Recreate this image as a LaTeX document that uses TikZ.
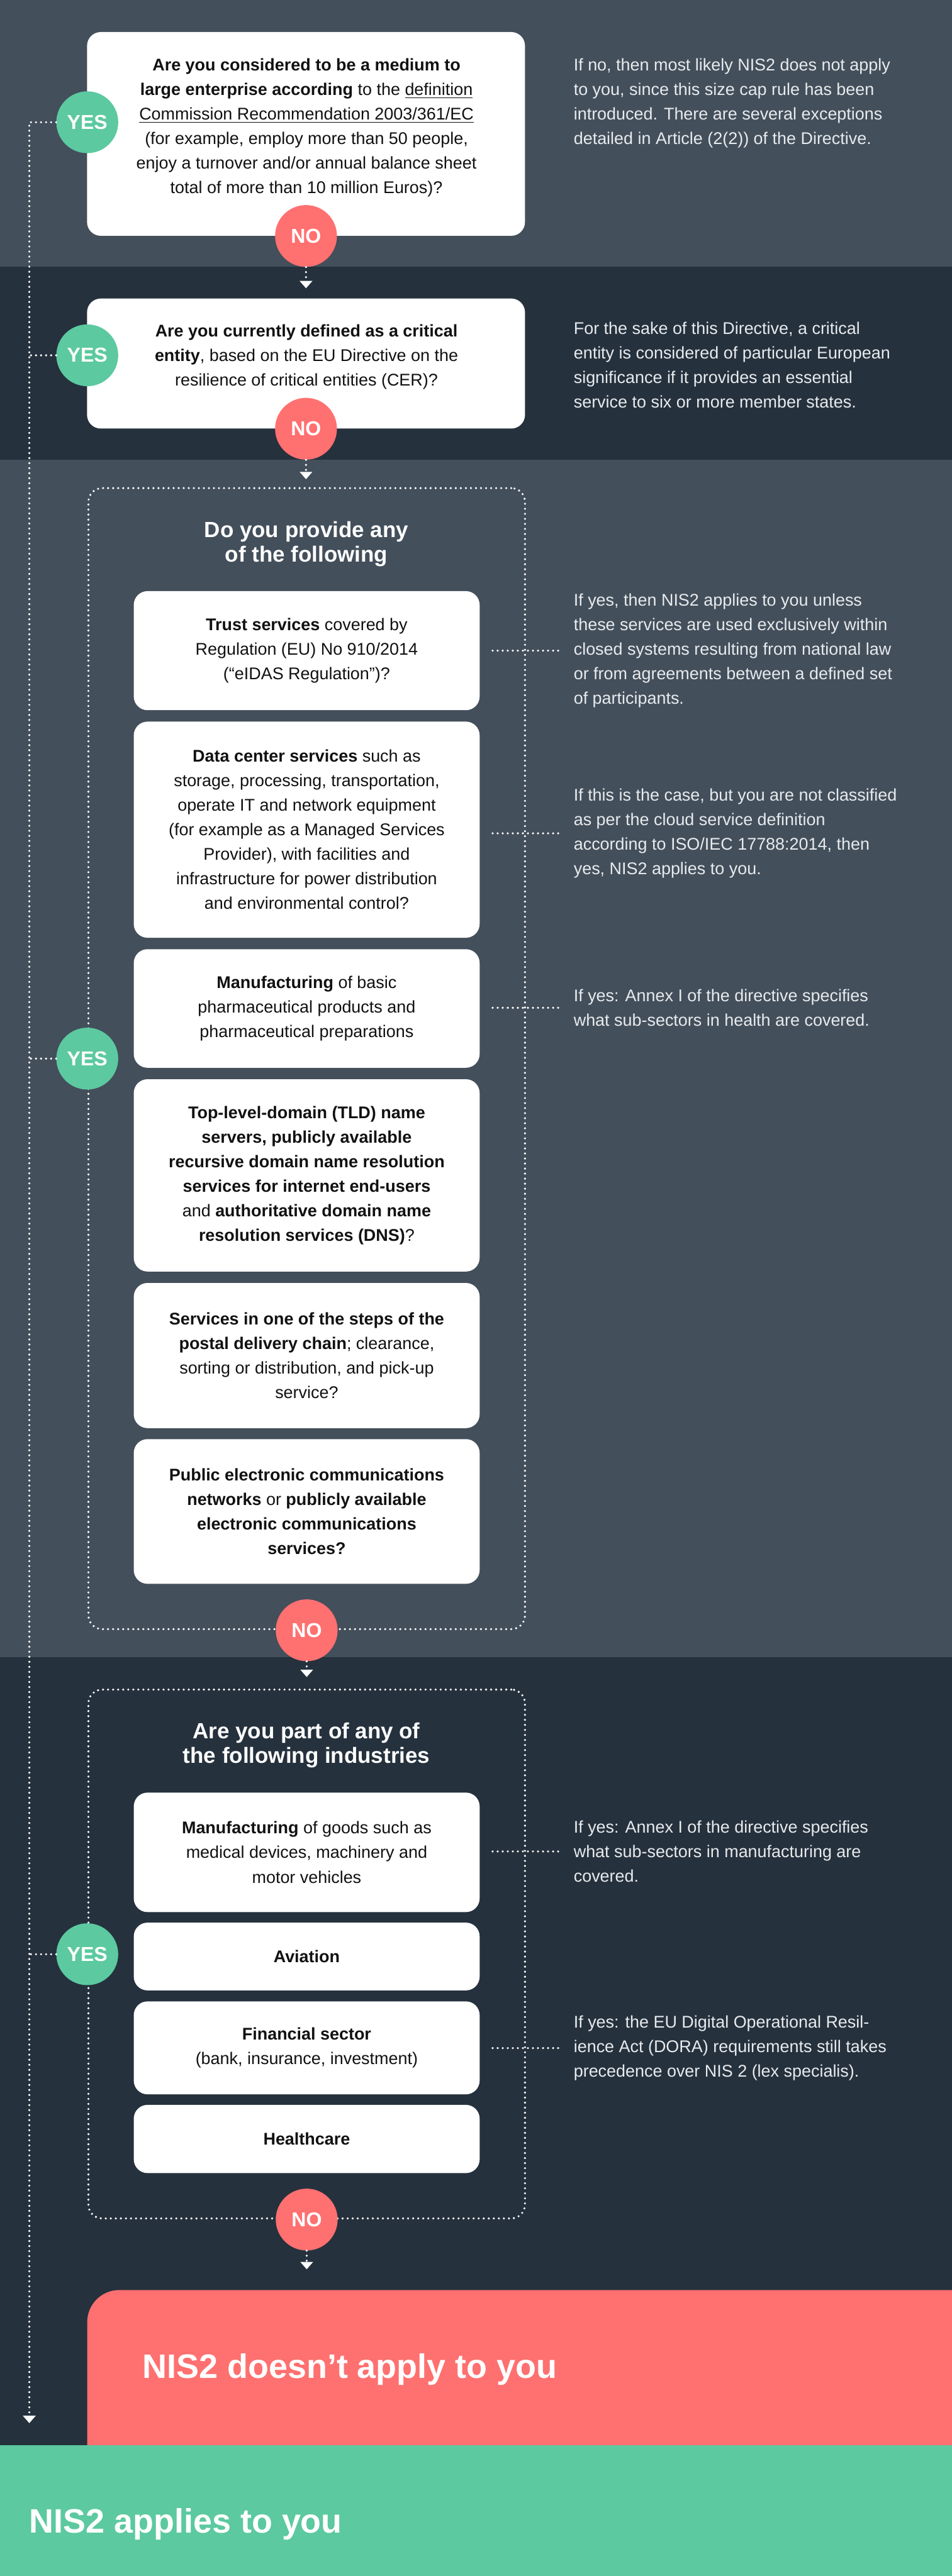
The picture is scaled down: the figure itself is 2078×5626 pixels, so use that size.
\documentclass[tikz,border=0pt]{standalone}
\usepackage{fontspec}
\setmainfont{Liberation Sans}
\usetikzlibrary{arrows.meta}
\definecolor{bandL}{HTML}{434F5B}
\definecolor{bandD}{HTML}{25313D}
\definecolor{yesG}{HTML}{5CC9A0}
\definecolor{noR}{HTML}{FF7070}
\definecolor{ink}{HTML}{111111}
\definecolor{notecol}{HTML}{E8EBEE}
\newcommand\bodyfont{\fontsize{18.5}{26.8}\selectfont}
\newcommand\headfont{\fontsize{24}{26.5}\selectfont\bfseries}
\newcommand\tagfont{\fontsize{22}{22}\selectfont\bfseries}
\newcommand\bigfont{\fontsize{37}{40}\selectfont\bfseries}
\newcommand\myul[1]{\setbox0\hbox{#1}\rlap{\rule[-3.2pt]{\wd0}{1.1pt}}\box0}
\tikzset{
 dotline/.style={draw=white, line width=2.5pt, line cap=round, dash pattern=on 0pt off 5.5pt},
 flow/.style={dotline, -{Triangle[width=14pt,length=8pt,line width=0pt]}},
 qbox/.style={fill=white, rounded corners=15pt, inner sep=0pt, minimum width=478pt},
 ibox/.style={fill=white, rounded corners=15pt, inner sep=0pt, minimum width=377.5pt, align=center, text=ink, font=\bodyfont},
 qtext/.style={align=center, text=ink, font=\bodyfont, inner sep=0pt},
 aside/.style={align=left, text=notecol, font=\bodyfont, inner sep=0pt, anchor=west},
 contbox/.style={dotline, rounded corners=15pt, minimum width=476.5pt, inner sep=0pt},
 heading/.style={align=center, text=white, font=\headfont, inner sep=0pt},
 yestag/.style={circle, fill=yesG, minimum size=67.5pt, inner sep=0pt, text=white, font=\tagfont},
 notag/.style={circle, fill=noR, minimum size=67.5pt, inner sep=0pt, text=white, font=\tagfont},
}
\begin{document}
\begin{tikzpicture}[x=0.5pt,y=-0.5pt]
\useasboundingbox (0,0) rectangle (2078,5626);
\clip (0,0) rectangle (2078,5626);
% bands
\fill[bandL] (0,0) rectangle (2078,583);
\fill[bandD] (0,583) rectangle (2078,1004);
\fill[bandL] (0,1004) rectangle (2078,3619);
\fill[bandD] (0,3619) rectangle (2078,5340);

% question 1
\node[qbox, minimum height=222.5pt] (q1) at (668,292.5) {};
\node[qtext] (q1t) at (669,279) {\textbf{Are you considered to be a medium to}\\
\textbf{large enterprise according} to the \myul{definition}\\
\myul{Commission Recommendation 2003/361/EC}\\
(for example, employ more than 50 people,\\
enjoy a turnover and/or annual balance sheet\\
total of more than 10 million Euros)?};
\node[aside] (r1) at (1252,225.5) {If no, then most likely NIS2 does not apply\\
to you, since this size cap rule has been\\
introduced. There are several exceptions\\
detailed in Article (2(2)) of the Directive.};

% question 2
\node[qbox, minimum height=142pt] (q2) at (668,794) {};
\node[qtext] (q2t) at (669,780) {\textbf{Are you currently defined as a critical}\\
\textbf{entity}, based on the EU Directive on the\\
resilience of critical entities (CER)?};
\node[aside] (r2) at (1252,797) {For the sake of this Directive, a critical\\
entity is considered of particular European\\
significance if it provides an essential\\
service to six or more member states.};

% group 1
\node[contbox, minimum height=1246pt] (c1) at (669.5,2312) {};
\node[heading] (h1) at (669,1188.5) {Do you provide any\\of the following};
\node[ibox, minimum height=130pt] (ib1) at (669.5,1421) {\textbf{Trust services} covered by\\
Regulation (EU) No 910/2014\\
(“eIDAS Regulation”)?};
\node[ibox, minimum height=236pt] (ib2) at (669.5,1812) {\textbf{Data center services} such as\\
storage, processing, transportation,\\
operate IT and network equipment\\
(for example as a Managed Services\\
Provider), with facilities and\\
infrastructure for power distribution\\
and environmental control?};
\node[ibox, minimum height=129.5pt] (ib3) at (669.5,2202.5) {\textbf{Manufacturing} of basic\\
pharmaceutical products and\\
pharmaceutical preparations};
\node[ibox, minimum height=210pt] (ib4) at (669.5,2567) {\textbf{Top-level-domain (TLD) name}\\
\textbf{servers, publicly available}\\
\textbf{recursive domain name resolution}\\
\textbf{services for internet end-users}\\
and \textbf{authoritative domain name}\\
\textbf{resolution services (DNS)}?};
\node[ibox, minimum height=158.5pt] (ib5) at (669.5,2960.5) {\textbf{Services in one of the steps of the}\\
\textbf{postal delivery chain}; clearance,\\
sorting or distribution, and pick-up\\
service?};
\node[ibox, minimum height=158pt] (ib6) at (669.5,3301) {\textbf{Public electronic communications}\\
\textbf{networks} or \textbf{publicly available}\\
\textbf{electronic communications}\\
\textbf{services?}};
\node[aside] (r3) at (1252,1421) {If yes, then NIS2 applies to you unless\\
these services are used exclusively within\\
closed systems resulting from national law\\
or from agreements between a defined set\\
of participants.};
\node[aside] (r4) at (1252,1820) {If this is the case, but you are not classified\\
as per the cloud service definition\\
according to ISO/IEC 17788:2014, then\\
yes, NIS2 applies to you.};
\node[aside] (r5) at (1252,2201) {If yes: Annex I of the directive specifies\\
what sub-sectors in health are covered.};

% group 2
\node[contbox, minimum height=577.5pt] (c2) at (669.5,4267.5) {};
\node[heading] (h2) at (669,3811.5) {Are you part of any of\\the following industries};
\node[ibox, minimum height=130.5pt] (m1) at (669.5,4045.5) {\textbf{Manufacturing} of goods such as\\
medical devices, machinery and\\
motor vehicles};
\node[ibox, minimum height=74pt, font=\bodyfont\bfseries] (m2) at (669.5,4273) {Aviation};
\node[ibox, minimum height=101.5pt] (m3) at (669.5,4472.5) {\textbf{Financial sector}\\
(bank, insurance, investment)};
\node[ibox, minimum height=74.5pt, font=\bodyfont\bfseries] (m4) at (669.5,4671.5) {Healthcare};
\node[aside] (r6) at (1252,4043.5) {If yes: Annex I of the directive specifies\\
what sub-sectors in manufacturing are\\
covered.};
\node[aside] (r7) at (1252,4473) {If yes: the EU Digital Operational Resil-\\
ience Act (DORA) requirements still takes\\
precedence over NIS 2 (lex specialis).};

% outcomes
\node[fill=noR, rounded corners=35pt, inner sep=0pt, minimum width=1100pt, minimum height=240pt, anchor=north west] (dontapply) at (190,5001) {};
\node[anchor=west, inner sep=0pt, text=white, font=\bigfont] (dontt) at (311,5175) {NIS2 doesn’t apply to you};
\fill[yesG] (0,5340) rectangle (2078,5626);
\node[anchor=west, inner sep=0pt, text=white, font=\bigfont] (applyt) at (64,5513) {NIS2 applies to you};
\coordinate (lend) at (64,5292);

% connectors to side notes
\draw[dotline, shorten <=14pt, shorten >=12pt] (r3.west -| ib1.east) -- (r3.west);
\draw[dotline, shorten <=14pt, shorten >=12pt] (r4.west -| ib2.east) -- (r4.west);
\draw[dotline, shorten <=14pt, shorten >=12pt] (r5.west -| ib3.east) -- (r5.west);
\draw[dotline, shorten <=14pt, shorten >=12pt] (r6.west -| m1.east) -- (r6.west);
\draw[dotline, shorten <=14pt, shorten >=12pt] (r7.west -| m3.east) -- (r7.west);

% tags
\node[yestag] (yes1) at (190.5,267) {YES};
\node[yestag] (yes2) at (190.5,776) {YES};
\node[yestag] (yes3) at (190.5,2312) {YES};
\node[yestag] (yes4) at (190.5,4268) {YES};
\node[notag] (no1) at (q1.south) {NO};
\node[notag] (no2) at (q2.south) {NO};
\node[notag] (no3) at (c1.south) {NO};
\node[notag] (no4) at (c2.south) {NO};

% no flow
\draw[flow, shorten >=11pt] (no1.south) -- (q2.north -| no1.south);
\draw[flow, shorten >=8.5pt] (no2.south) -- (c1.north -| no2.south);
\draw[flow, shorten >=12.5pt] (no3.south) -- (c2.north -| no3.south);
\draw[flow, shorten >=22.5pt] (no4.south) -- (dontapply.north -| no4.south);

% yes flow
\draw[flow] (yes1.west) -| (lend);
\draw[dotline] (yes2.west) -- (yes2.west -| lend);
\draw[dotline] (yes3.west) -- (yes3.west -| lend);
\draw[dotline] (yes4.west) -- (yes4.west -| lend);
\end{tikzpicture}
\end{document}
